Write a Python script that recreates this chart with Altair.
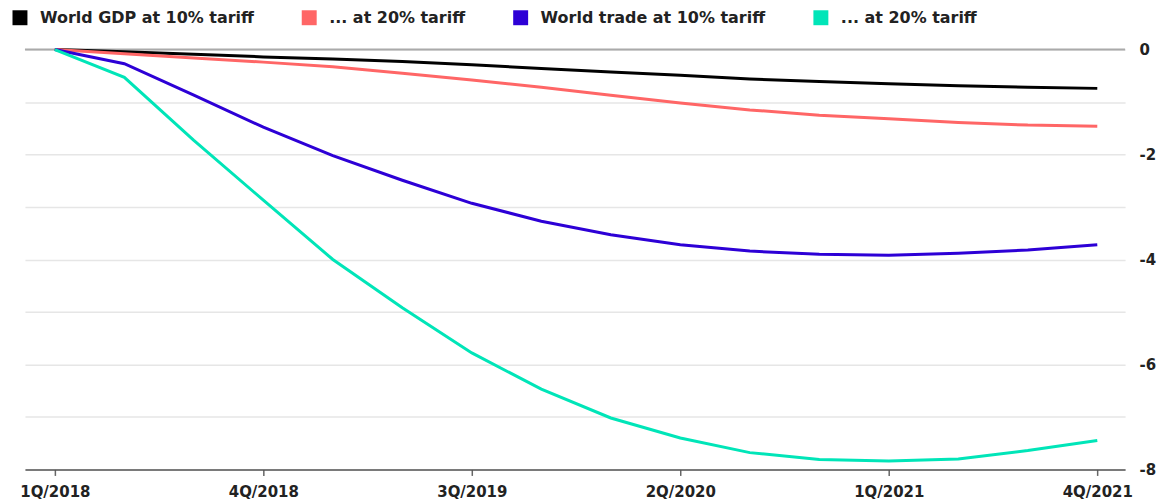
import altair as alt
import pandas as pd

quarters = [f"{q}Q/{y}" for y in range(2018, 2022) for q in range(1, 5)]
series_names = ["World GDP at 10% tariff", "... at 20% tariff",
                "World trade at 10% tariff", "... at 20% tariff "]
colors = ["#000000", "#ff6666", "#2d00d6", "#00e5b8"]

gdp10 = [0, -0.04, -0.09, -0.14, -0.18, -0.23, -0.29, -0.36, -0.43, -0.49,
         -0.56, -0.61, -0.65, -0.69, -0.72, -0.74]
gdp20 = [0, -0.08, -0.16, -0.24, -0.33, -0.45, -0.58, -0.72, -0.87, -1.02,
         -1.15, -1.25, -1.32, -1.39, -1.44, -1.46]
trade10 = [0, -0.27, -0.87, -1.48, -2.02, -2.49, -2.93, -3.27, -3.53, -3.72,
           -3.84, -3.90, -3.92, -3.88, -3.82, -3.72]
trade20 = [0, -0.53, -1.73, -2.87, -4.00, -4.92, -5.78, -6.47, -7.02, -7.40,
           -7.68, -7.81, -7.84, -7.80, -7.64, -7.45]

tick_idx = [0, 3, 6, 9, 12, 15]
y_grid = [0, -1, -2, -3, -4, -5, -6, -7, -8]

rows = []
for name, vals in zip(series_names, [gdp10, gdp20, trade10, trade20]):
    for i, v in enumerate(vals):
        rows.append({"series": name, "q": i, "quarter": quarters[i], "value": v})
df = pd.DataFrame(rows)

label_arr = "[" + ",".join(f"'{quarters[i]}'" for i in range(len(quarters))) + "]"
FONT = "DejaVu Sans"

lines = alt.Chart(df).mark_line(strokeWidth=3).encode(
    x=alt.X("q:Q", scale=alt.Scale(domain=[-0.43, 15.4], nice=False, zero=False),
            axis=alt.Axis(values=tick_idx, labelExpr=f"{label_arr}[datum.value]",
                          title=None, grid=False, domainColor="#555", domainWidth=1.5,
                          tickColor="#666", tickSize=6, tickWidth=1.5, labelPadding=9,
                          labelFont=FONT, labelFontSize=15, labelFontWeight="bold",
                          labelColor="#222")),
    y=alt.Y("value:Q", scale=alt.Scale(domain=[-8, 0], nice=False),
            axis=alt.Axis(orient="right", values=y_grid, title=None, domain=False,
                          ticks=False, labelPadding=14, labelAlign="left",
                          labelExpr="datum.value % 2 == 0 ? '' + datum.value : ''",
                          gridColor="#e6e6e6", gridWidth=1.5,
                          labelFont=FONT, labelFontSize=15, labelFontWeight="bold",
                          labelColor="#222")),
    color=alt.Color("series:N", sort=series_names,
                    scale=alt.Scale(domain=series_names, range=colors),
                    legend=alt.Legend(orient="none", legendX=-13, legendY=-40,
                                      direction="horizontal", title=None,
                                      symbolType="square", symbolSize=56,
                                      symbolStrokeWidth=7.5, columnPadding=36,
                                      labelOffset=12, padding=0, labelLimit=500,
                                      labelFont=FONT, labelFontSize=16,
                                      labelFontWeight="bold", labelColor="#222")),
)

zero = alt.Chart(pd.DataFrame({"y": [0]})).mark_rule(color="#aaaaaa", strokeWidth=2).encode(
    y="y:Q"
)

chart = alt.layer(zero, lines).properties(
    width=1103, height=421,
    autosize=alt.AutoSizeParams(type="none"),
    padding={"left": 17, "top": 41, "right": 32, "bottom": 30},
).configure_view(stroke=None)

chart.save("out.html", embed_options={"renderer": "svg", "actions": False})
